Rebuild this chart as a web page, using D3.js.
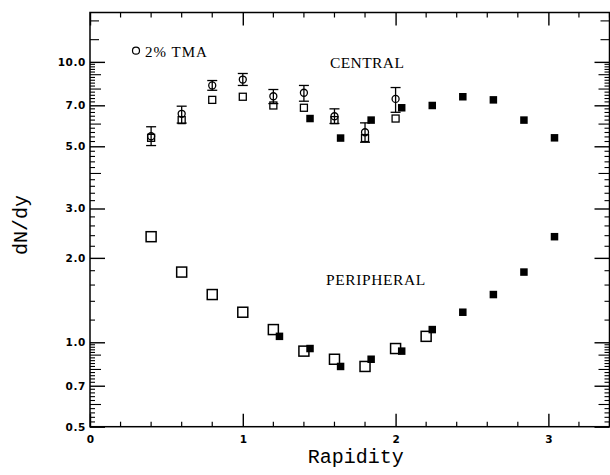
<!DOCTYPE html>
<html><head><meta charset="utf-8">
<script src="https://cdn.jsdelivr.net/npm/d3@7"></script>
<style>
html,body{margin:0;padding:0;background:#fff;}
svg{display:block;}
</style></head>
<body>
<script>
// ---- data ----
const centralTmaX   = [0.4, 0.6, 0.8, 1.0, 1.2, 1.4, 1.6, 1.8, 2.0];
const centralTmaY   = [5.43, 6.53, 8.24, 8.65, 7.54, 7.76, 6.40, 5.61, 7.38];
const centralTmaLo  = [5.03, 6.05, 7.92, 8.24, 7.10, 7.24, 6.03, 5.17, 6.61];
const centralTmaHi  = [5.87, 6.95, 8.58, 9.09, 7.97, 8.24, 6.80, 6.06, 8.10];

const centralOpenX  = [0.4, 0.6, 0.8, 1.0, 1.2, 1.4, 1.6, 1.8, 2.0];
const centralOpenY  = [5.36, 6.20, 7.32, 7.51, 6.99, 6.86, 6.20, 5.35, 6.28];
const centralFillX  = [1.44, 1.64, 1.84, 2.04, 2.24, 2.44, 2.64, 2.84, 3.04];
const centralFillY  = [6.28, 5.35, 6.20, 6.86, 6.99, 7.51, 7.32, 6.20, 5.36];

const periphOpenX   = [0.4, 0.6, 0.8, 1.0, 1.2, 1.4, 1.6, 1.8, 2.0, 2.2];
const periphOpenY   = [2.38, 1.78, 1.48, 1.28, 1.11, 0.93, 0.87, 0.82, 0.95, 1.05];
const periphFillX   = [1.24, 1.44, 1.64, 1.84, 2.04, 2.24, 2.44, 2.64, 2.84, 3.04];
const periphFillY   = [1.05, 0.95, 0.82, 0.87, 0.93, 1.11, 1.28, 1.48, 1.78, 2.38];

const yTickValues = [0.5, 0.7, 1.0, 2.0, 3.0, 5.0, 7.0, 10.0];
const yTickLabels = ["0.5", "0.7", "1.0", "2.0", "3.0", "5.0", "7.0", "10.0"];
const xTickValues = [0, 1, 2, 3];
const xTickLabels = ["0", "1", "2", "3"];

// ---- layout ----
const W = 610, H = 475;
const L = 90, R = 609.5, T = 12.5, B = 426.7;

const svg = d3.select("body").append("svg").attr("width", W).attr("height", H);

const x = d3.scaleLinear().domain([0, 3.4]).range([L, R]);
const y = d3.scaleLog().domain([0.5, 15]).range([B, T]);

const g = svg.append("g");

function rangeVals(a, b, s) { const out = []; for (let v = a; v <= b + 1e-9; v += s) out.push(+v.toFixed(4)); return out; }
let yMinor = [].concat(rangeVals(0.5, 1.0, 0.02), rangeVals(1.0, 5.0, 0.2), rangeVals(5.0, 10.0, 0.2), [12, 14]);
yMinor = Array.from(new Set(yMinor)).filter(v => !yTickValues.some(t => Math.abs(t - v) < 1e-6));
function yLen(v) {
  const near = (a) => Math.abs(v - a) < 1e-6;
  if ([0.6, 0.8, 0.9, 4, 6, 8, 9].some(near)) return 11;
  if ([12, 14].some(near)) return 9;
  return 5;
}

const lw = 1.4;
[["left", L, 1], ["right", R, -1]].forEach(([side, x0, dir]) => {
  g.selectAll(".ymin-" + side).data(yMinor).join("line")
    .attr("x1", x0).attr("x2", d => x0 + dir * yLen(d))
    .attr("y1", d => y(d)).attr("y2", d => y(d))
    .attr("stroke", "#000").attr("stroke-width", 1.1);
});
const tickFont = "DejaVu Sans, sans-serif";
const yAxisL = d3.axisLeft(y).tickValues(yTickValues).tickSize(-15).tickPadding(19)
  .tickFormat((d, i) => yTickLabels[i]);
const gl = g.append("g").attr("transform", `translate(${L},0)`).call(yAxisL);
gl.select(".domain").remove();
gl.selectAll("line").attr("stroke", "#000").attr("stroke-width", lw);
gl.selectAll("text").attr("font-family", tickFont).attr("font-weight", "bold")
  .attr("font-size", 10.5).attr("letter-spacing", 0.6).attr("fill", "#000").attr("dx", 15);

const yAxisR = d3.axisRight(y).tickValues(yTickValues).tickSize(-15).tickFormat("");
const gr = g.append("g").attr("transform", `translate(${R},0)`).call(yAxisR);
gr.select(".domain").remove();
gr.selectAll("line").attr("stroke", "#000").attr("stroke-width", lw);

const xMinor = rangeVals(0, 3.4, 0.2).filter(v => !xTickValues.some(t => Math.abs(t - v) < 1e-6));
[["bottom", B, -1], ["top", T, 1]].forEach(([side, y0, dir]) => {
  g.selectAll(".xmin-" + side).data(xMinor).join("line")
    .attr("x1", d => x(d)).attr("x2", d => x(d))
    .attr("y1", y0).attr("y2", y0 + dir * 5)
    .attr("stroke", "#000").attr("stroke-width", 1.2);
});
const xAxisB = d3.axisBottom(x).tickValues(xTickValues).tickSize(-13).tickPadding(21)
  .tickFormat((d, i) => xTickLabels[i]);
const gb = g.append("g").attr("transform", `translate(0,${B})`).call(xAxisB);
gb.select(".domain").remove();
gb.selectAll("line").attr("stroke", "#000").attr("stroke-width", lw);
gb.selectAll("text").attr("font-family", tickFont).attr("font-weight", "bold")
  .attr("font-size", 10.5).attr("fill", "#000").attr("dy", "-0.4em");
const xAxisT = d3.axisTop(x).tickValues(xTickValues).tickSize(-13).tickFormat("");
const gt = g.append("g").attr("transform", `translate(0,${T})`).call(xAxisT);
gt.select(".domain").remove();
gt.selectAll("line").attr("stroke", "#000").attr("stroke-width", lw);

g.append("rect").attr("x", L).attr("y", T).attr("width", R - L).attr("height", B - T)
  .attr("fill", "none").attr("stroke", "#000").attr("stroke-width", 1.5);

// ---- marks ----
const central = centralTmaX.map((d, i) => ({x: d, y: centralTmaY[i], lo: centralTmaLo[i], hi: centralTmaHi[i]}));
const cap = 5;
const eb = g.append("g").attr("stroke", "#000").attr("stroke-width", 1.3).attr("fill", "none");
central.forEach(d => {
  eb.append("line").attr("x1", x(d.x)).attr("x2", x(d.x)).attr("y1", y(d.lo)).attr("y2", y(d.hi));
  eb.append("line").attr("x1", x(d.x) - cap).attr("x2", x(d.x) + cap).attr("y1", y(d.lo)).attr("y2", y(d.lo));
  eb.append("line").attr("x1", x(d.x) - cap).attr("x2", x(d.x) + cap).attr("y1", y(d.hi)).attr("y2", y(d.hi));
});
const so = 7;
g.selectAll(".co").data(centralOpenX.map((d, i) => [d, centralOpenY[i]])).join("rect")
  .attr("x", d => x(d[0]) - so / 2).attr("y", d => y(d[1]) - so / 2)
  .attr("width", so).attr("height", so).attr("fill", "none").attr("stroke", "#000").attr("stroke-width", 1.3);
g.selectAll(".cc").data(central).join("circle")
  .attr("cx", d => x(d.x)).attr("cy", d => y(d.y)).attr("r", 3.5)
  .attr("fill", "none").attr("stroke", "#000").attr("stroke-width", 1.3);
const sf = 7.5;
g.selectAll(".cf").data(centralFillX.map((d, i) => [d, centralFillY[i]])).join("rect")
  .attr("x", d => x(d[0]) - sf / 2).attr("y", d => y(d[1]) - sf / 2)
  .attr("width", sf).attr("height", sf).attr("fill", "#000");
const sp = 10;
g.selectAll(".po").data(periphOpenX.map((d, i) => [d, periphOpenY[i]])).join("rect")
  .attr("x", d => x(d[0]) - sp / 2).attr("y", d => y(d[1]) - sp / 2)
  .attr("width", sp).attr("height", sp).attr("fill", "#fff").attr("stroke", "#000").attr("stroke-width", 1.5);
g.selectAll(".pf").data(periphFillX.map((d, i) => [d, periphFillY[i]])).join("rect")
  .attr("x", d => x(d[0]) - sf / 2).attr("y", d => y(d[1]) - sf / 2)
  .attr("width", sf).attr("height", sf).attr("fill", "#000");

// ---- texts ----
g.append("circle").attr("cx", 136).attr("cy", 50.7).attr("r", 3.5)
  .attr("fill", "none").attr("stroke", "#000").attr("stroke-width", 1.2);
g.append("text").attr("x", 145).attr("y", 56.7).text("2% TMA")
  .attr("font-family", "Liberation Serif, serif").attr("font-size", 15).attr("letter-spacing", 1);
g.append("text").attr("x", 330).attr("y", 68.3).text("CENTRAL")
  .attr("font-family", "Liberation Serif, serif").attr("font-size", 15.5).attr("letter-spacing", 0.4);
g.append("text").attr("x", 326).attr("y", 285).text("PERIPHERAL")
  .attr("font-family", "Liberation Serif, serif").attr("font-size", 15.5).attr("letter-spacing", 0.6);

g.append("text").attr("x", (L + R) / 2 + 6).attr("y", 463).attr("text-anchor", "middle").text("Rapidity")
  .attr("font-family", "Liberation Mono, monospace").attr("font-size", 20);
g.append("text").attr("transform", "translate(27,225) rotate(-90)").attr("text-anchor", "middle").text("dN/dy")
  .attr("font-family", "Liberation Mono, monospace").attr("font-size", 20);
</script>
</body></html>
